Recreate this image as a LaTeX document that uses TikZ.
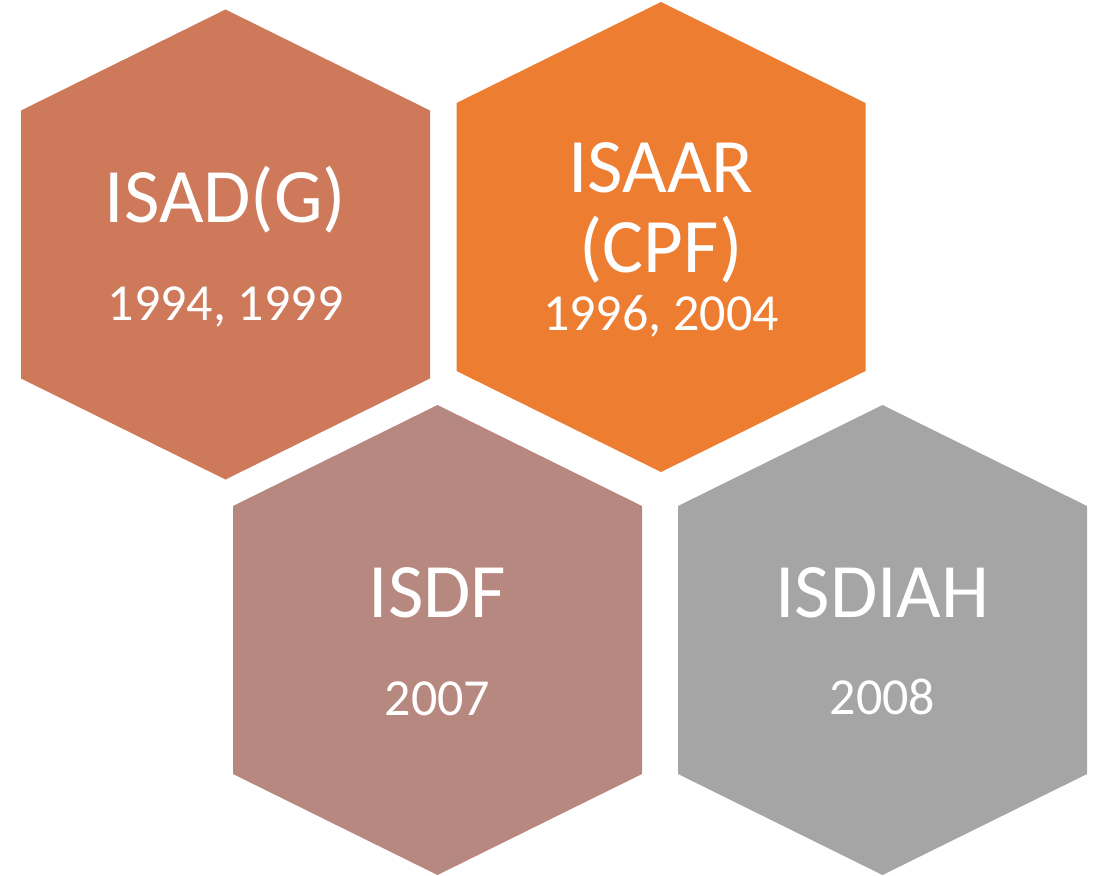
\documentclass[tikz,border=0pt]{standalone}
\usepackage{fontspec}
\setmainfont{Carlito}
\usetikzlibrary{calc}
\definecolor{isadcol}{RGB}{205,121,90}
\definecolor{isaarcol}{RGB}{237,125,49}
\definecolor{isdfcol}{RGB}{183,136,128}
\definecolor{isdiahcol}{RGB}{165,165,165}
\tikzstyle{titletext}=[text=white,anchor=base,inner sep=0pt,font=\fontsize{77}{82}\selectfont]
\tikzstyle{yeartext}=[text=white,anchor=base,inner sep=0pt,font=\fontsize{52}{57}\selectfont]

\begin{document}
\begin{tikzpicture}[x=1pt, y=-1pt]
    \useasboundingbox (0,0) rectangle (1094,875);

    \foreach \pos/\col in {{(225.5,244.5)/isadcol}, {(661,237)/isaarcol}, {(437.5,640)/isdfcol}, {(882.5,640)/isdiahcol}}
        \fill[\col, shift={\pos}] (0,-235) -- (204.5,-134) -- (204.5,134) -- (0,235) -- (-204.5,134) -- (-204.5,-134) -- cycle;

    \foreach \pos/\name/\label in {{(225.5,222)/isad/ISAD(G)}, {(661,192)/isaar/ISAAR}, {(661,272)/cpf/(CPF)}}
        \node[titletext] (\name) at \pos {\label};

    \foreach \pos/\name/\label in {{(437.5,617)/isdf/ISDF}, {(882.5,617)/isdiah/ISDIAH}}
        \node[titletext] (\name) at \pos {\label};

    \foreach \pos/\name/\label in {{(225.5,320)/isadyr/1994, 1999}, {(661,330)/isaaryr/1996, 2004}}
        \node[yeartext] (\name) at \pos {\label};

    \foreach \pos/\name/\label in {{(437.5,715)/isdfyr/2007}, {(882.5,714)/isdiahyr/2008}}
        \node[yeartext] (\name) at \pos {\label};

\end{tikzpicture}
\end{document}
